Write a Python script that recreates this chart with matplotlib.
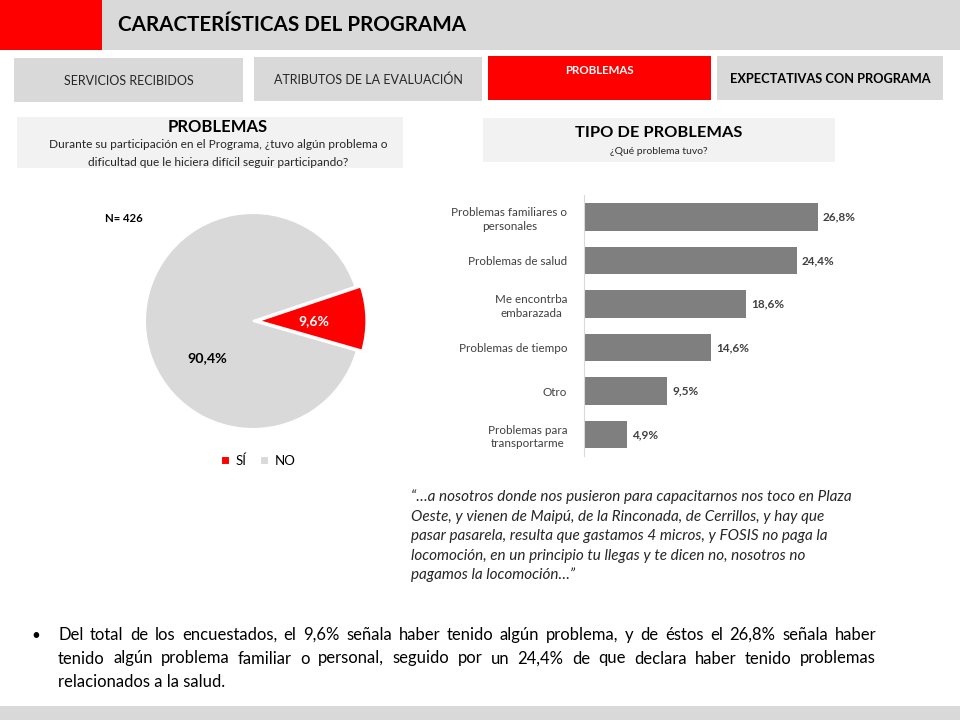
"""Lámina 'Características del programa': torta SÍ/NO y barras de tipo de problemas."""

import matplotlib

matplotlib.use("Agg")
import matplotlib.pyplot as plt
from matplotlib.patches import Rectangle

plt.rcParams["font.family"] = ["Lato", "DejaVu Sans"]

# --- datos -------------------------------------------------------------
pie_labels = ["SÍ", "NO"]
pie_values = [9.6, 90.4]
n_total = 426

categories = [
    "Problemas familiares o\npersonales",
    "Problemas de salud",
    "Me encontrba\nembarazada",
    "Problemas de tiempo",
    "Otro",
    "Problemas para\ntransportarme",
]
values = [26.8, 24.4, 18.6, 14.6, 9.5, 4.9]

tabs = ["SERVICIOS RECIBIDOS", "ATRIBUTOS DE LA EVALUACIÓN", "PROBLEMAS",
        "EXPECTATIVAS CON PROGRAMA"]

quote_lines = [
    "“…a nosotros donde nos pusieron para capacitarnos nos toco en Plaza",
    "Oeste, y vienen de Maipú, de la Rinconada, de Cerrillos, y hay que",
    "pasar pasarela, resulta que gastamos 4 micros, y FOSIS no paga la",
    "locomoción, en un principio tu llegas y te dicen no, nosotros no",
    "pagamos la locomoción…”",
]
bullet_lines = [
    "Del total de los encuestados, el 9,6% señala haber tenido algún problema, "
    "y de éstos el 26,8% señala haber",
    "tenido algún problema familiar o personal, seguido por un 24,4% de que "
    "declara haber tenido problemas",
    "relacionados a la salud.",
]

RED = "#ff0000"
GRAY = "#d9d9d9"
LIGHT = "#f2f2f2"
DARK = "#404040"

W, H = 960, 720
fig = plt.figure(figsize=(W / 100, H / 100), dpi=100)

# fondo en coordenadas de píxel (y hacia abajo)
bg = fig.add_axes([0, 0, 1, 1])
bg.set_xlim(0, W)
bg.set_ylim(H, 0)
bg.axis("off")


def box(x0, y0, x1, y1, color):
    bg.add_patch(Rectangle((x0, y0), x1 - x0, y1 - y0, color=color, lw=0))


def px_axes(x0, y0, x1, y1):
    return fig.add_axes([x0 / W, 1 - y1 / H, (x1 - x0) / W, (y1 - y0) / H])


# cabecera
box(0, 0, W, 50, GRAY)
box(0, 0, 102, 50, RED)
bg.text(118, 25, "CARACTERÍSTICAS DEL PROGRAMA", fontsize=14.9,
        fontweight="bold", va="center", color="black")

# pestañas
tab_boxes = [(14, 58, 243, 102), (254, 57, 482, 101), (488, 56, 711, 100),
             (717, 56, 943, 100)]
for i, (label, (x0, y0, x1, y1)) in enumerate(zip(tabs, tab_boxes)):
    active = i == 2
    box(x0, y0, x1, y1, RED if active else GRAY)
    ty = 70 if active else (y0 + y1) / 2 + 1
    bg.text((x0 + x1) / 2, ty, label, ha="center", va="center",
            fontsize=8.3 if active else (9.2 if i == 3 else 9),
            fontweight="bold" if i >= 2 else "normal",
            color="white" if active else ("black" if i == 3 else "#262626"))

# recuadros de título
box(17, 117, 403, 168, LIGHT)
bg.text(218, 127, "PROBLEMAS", ha="center", va="center", fontsize=12,
        fontweight="bold")
bg.text(218, 145, "Durante su participación en el Programa, ¿tuvo algún "
        "problema o", ha="center", va="center", fontsize=8.6, color="#262626")
bg.text(218, 162, "dificultad que le hiciera difícil seguir participando?",
        ha="center", va="center", fontsize=8.6, color="#262626")

box(483, 118, 835, 162, LIGHT)
bg.text(659, 133, "TIPO DE PROBLEMAS", ha="center", va="center",
        fontsize=11.8, fontweight="bold")
bg.text(659, 152, "¿Qué problema tuvo?", ha="center", va="center",
        fontsize=7.5, color="#262626")

# --- torta -------------------------------------------------------------
r_px = 108
cx, cy = 253, 321
lim = 1.2
pie_ax = px_axes(cx - lim * r_px, cy - lim * r_px, cx + lim * r_px,
                 cy + lim * r_px)
wedges, _ = pie_ax.pie(
    pie_values, colors=[RED, GRAY], explode=[0.05, 0], startangle=-16,
    wedgeprops=dict(edgecolor="white", linewidth=1.5),
)
pie_ax.set_xlim(-lim, lim)
pie_ax.set_ylim(-lim, lim)
pie_ax.set_aspect("equal")
pie_ax.axis("off")
pie_ax.text(0.56, 0.0, f"{pie_values[0]:.1f}%".replace(".", ","),
            ha="center", va="center", color="white", fontsize=10,
            fontweight="bold")
pie_ax.text(-0.42, -0.34, f"{pie_values[1]:.1f}%".replace(".", ","),
            ha="center", va="center", color="black", fontsize=10.3,
            fontweight="bold")
bg.text(105, 219, f"N= {n_total}", va="center", fontsize=8.2,
        fontweight="bold")
pie_ax.legend(wedges, pie_labels, loc="center", bbox_to_anchor=(0.52, -0.04),
              ncol=2, frameon=False, fontsize=9.5, handlelength=0.7,
              handleheight=0.7, handletextpad=0.4, columnspacing=1.0)

# --- barras ------------------------------------------------------------
bar_ax = px_axes(584, 195.25, 584 + 30 * 8.72, 456.25)
ypos = list(range(len(values)))
bar_ax.barh(ypos, values, height=0.64, color="#7f7f7f")
bar_ax.set_xlim(0, 30)
bar_ax.set_ylim(len(values) - 0.5, -0.5)
bar_ax.set_yticks(ypos)
bar_ax.set_yticklabels(categories, fontsize=8.4, color=DARK,
                       multialignment="center", linespacing=1.3)
bar_ax.tick_params(axis="y", length=0, pad=12)
bar_ax.set_xticks([])
for side in ("top", "right", "bottom"):
    bar_ax.spines[side].set_visible(False)
bar_ax.spines["left"].set_color(GRAY)
bar_ax.patch.set_alpha(0)
for y, v in zip(ypos, values):
    bar_ax.text(v + 0.6, y, f"{v:.1f}%".replace(".", ","), va="center",
                fontsize=8.5, fontweight="bold", color=DARK)

# --- cita --------------------------------------------------------------
for i, line in enumerate(quote_lines):
    bg.text(411, 501 + i * 19.6, line, va="baseline", fontsize=11,
            style="italic", color="#262626")

# --- viñeta (texto justificado) ---------------------------------------
bg.text(31, 636, "•", va="center", fontsize=11, color="black")
renderer = fig.canvas.get_renderer()
left, right = 58, 876
for i, line in enumerate(bullet_lines):
    y = 640 + i * 23.5  # línea base
    if i == len(bullet_lines) - 1:
        bg.text(left, y, line, va="baseline", fontsize=12, color="black")
        continue
    words = line.split()
    arts = [bg.text(0, y, w, va="baseline", fontsize=12, color="black")
            for w in words]
    widths = [a.get_window_extent(renderer).width for a in arts]
    gap = (right - left - sum(widths)) / (len(words) - 1)
    x = left
    for a, w in zip(arts, widths):
        a.set_x(x)
        x += w + gap

box(0, 706, W, H, GRAY)

fig.savefig("out.png", dpi=100)
